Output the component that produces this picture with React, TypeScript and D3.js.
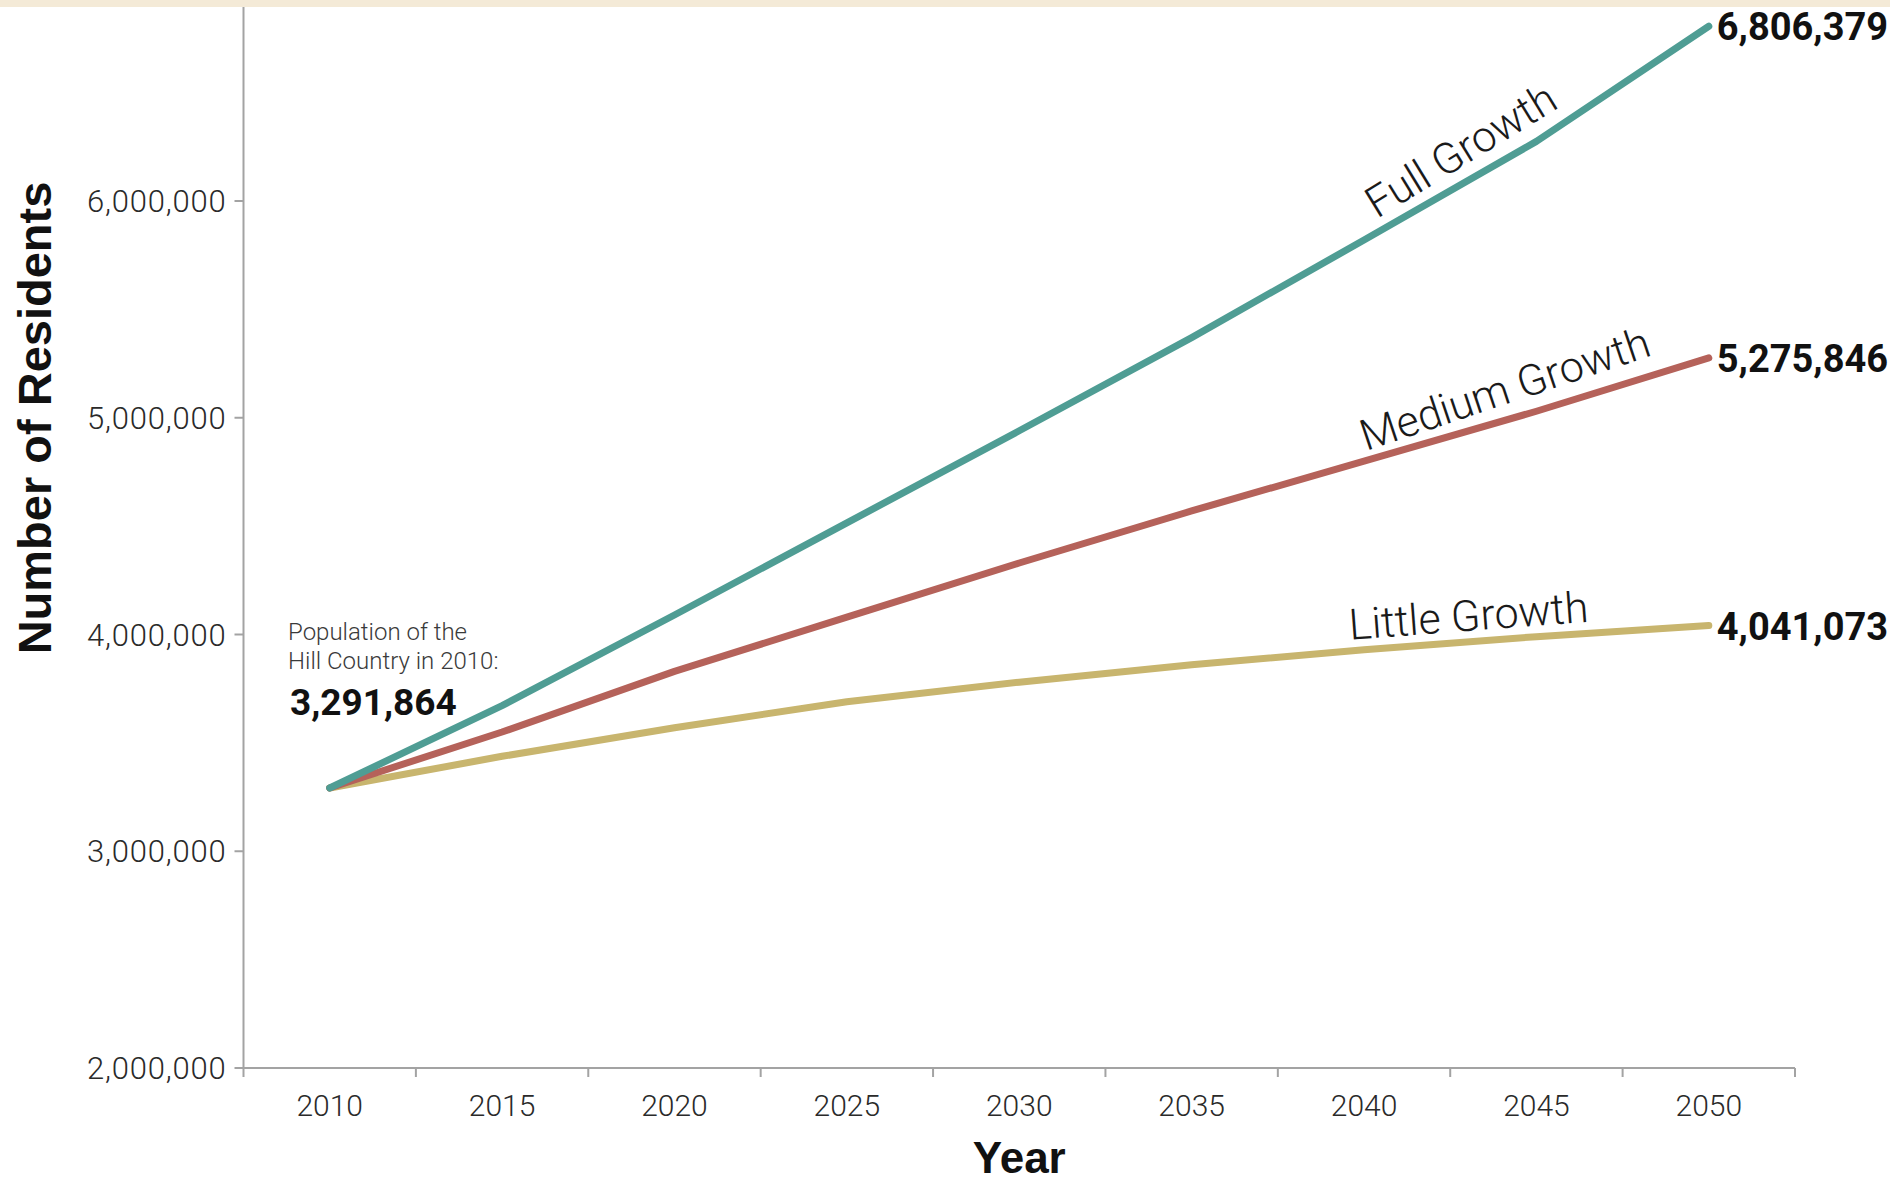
import React, { useEffect } from "react";
import * as d3 from "d3";

const years = ["2010", "2015", "2020", "2025", "2030", "2035", "2040", "2045", "2050"];
const fullGrowth = [3291864, 3672000, 4090000, 4515000, 4940000, 5370000, 5820000, 6275000, 6806379];
const mediumGrowth = [3291864, 3550000, 3830000, 4080000, 4330000, 4570000, 4800000, 5030000, 5275846];
const littleGrowth = [3291864, 3438000, 3570000, 3690000, 3780000, 3860000, 3930000, 3990000, 4041073];
const yTicks = [2000000, 3000000, 4000000, 5000000, 6000000];

const seriesNames = ["Full Growth", "Medium Growth", "Little Growth"];
const seriesColors = ["#4f9d94", "#b5625a", "#c8b56e"];

const W = 1890;
const H = 1185;
const margin = { left: 243.5, right: 95, top: 7, bottom: 117 };

export default function App() {
  useEffect(() => {
    document.body.style.margin = "0";
  }, []);

  const x = d3
    .scaleBand<string>()
    .domain(years)
    .range([margin.left, W - margin.right])
    .paddingInner(0)
    .paddingOuter(0);
  const cx = (yr: string) => (x(yr) as number) + x.bandwidth() / 2;
  const y = d3.scaleLinear().domain([2000000, 6000000]).range([1068, 201]);
  const fmt = d3.format(",");

  const series = [fullGrowth, mediumGrowth, littleGrowth];
  const line = d3
    .line<number>()
    .x((_, i) => cx(years[i]))
    .y((d) => y(d));

  // label placement relative to the 2040 point of each series
  const labelCfg = [
    { dx: 13, dy: -21, angle: -31.5 },
    { dx: 2, dy: -10, angle: -18.5 },
    { dx: -14, dy: -10, angle: -4.3 },
  ];

  const y0 = y.range()[0];
  const edges = [...years.map((yr) => x(yr) as number), W - margin.right];
  const light = "Roboto";

  return (
    <svg width={W} height={H} style={{ display: "block", background: "#ffffff" }}>
      {/* y axis */}
      <line x1={margin.left} x2={margin.left} y1={0} y2={y0} stroke="#a3a3a3" strokeWidth={2} />
      {yTicks.map((t) => (
        <g key={t}>
          <line x1={margin.left - 9} x2={margin.left} y1={y(t)} y2={y(t)} stroke="#a3a3a3" strokeWidth={2} />
          <text
            x={margin.left - 17}
            y={y(t)}
            dy="0.36em"
            textAnchor="end"
            fontFamily={light}
            fontWeight={300}
            fontSize={31}
            letterSpacing={0.8}
            fill="#2a2a2a"
          >
            {fmt(t)}
          </text>
        </g>
      ))}
      {/* x axis */}
      <line x1={margin.left} x2={W - margin.right} y1={y0} y2={y0} stroke="#a3a3a3" strokeWidth={2} />
      {edges.map((e, i) => (
        <line key={i} x1={e} x2={e} y1={y0} y2={y0 + 9} stroke="#a3a3a3" strokeWidth={2} />
      ))}
      {years.map((yr) => (
        <text
          key={yr}
          x={cx(yr)}
          y={1116}
          textAnchor="middle"
          fontFamily={light}
          fontWeight={300}
          fontSize={30}
          fill="#2a2a2a"
        >
          {yr}
        </text>
      ))}

      {/* axis titles */}
      <text
        transform={`translate(51, 418) rotate(-90)`}
        textAnchor="middle"
        fontFamily="Liberation Sans"
        fontWeight={700}
        fontSize={47}
        fill="#111"
      >
        Number of Residents
      </text>
      <text
        x={(margin.left + W - margin.right) / 2}
        y={1173}
        textAnchor="middle"
        fontFamily="Liberation Sans"
        fontWeight={700}
        fontSize={44}
        fill="#111"
      >
        Year
      </text>

      {/* lines */}
      {series.slice().reverse().map((s, ri) => {
        const i = series.length - 1 - ri;
        return (
          <path
            key={seriesNames[i]}
            d={line(s) as string}
            fill="none"
            stroke={seriesColors[i]}
            strokeWidth={7}
            strokeLinecap="round"
            strokeLinejoin="round"
          />
        );
      })}

      {/* series labels */}
      {series.map((s, i) => {
        const px = cx(years[6]) + labelCfg[i].dx;
        const py = y(s[6]) + labelCfg[i].dy;
        return (
          <text
            key={seriesNames[i]}
            transform={`translate(${px}, ${py}) rotate(${labelCfg[i].angle})`}
            fontFamily={light}
            fontWeight={300}
            fontSize={43}
            fill="#1a1a1a"
          >
            {seriesNames[i]}
          </text>
        );
      })}

      {/* end labels */}
      {series.map((s, i) => (
        <text
          key={"end" + i}
          x={cx(years[years.length - 1]) + 8}
          y={y(s[s.length - 1])}
          dy="0.37em"
          fontFamily="Roboto"
          fontWeight={700}
          fontSize={38}
          fill="#111"
        >
          {fmt(s[s.length - 1])}
        </text>
      ))}

      {/* 2010 annotation */}
      <text x={288} y={640} fontFamily={light} fontWeight={300} fontSize={24} fill="#3a3a3a">
        Population of the
      </text>
      <text x={288} y={669} fontFamily={light} fontWeight={300} fontSize={24} fill="#3a3a3a">
        Hill Country in 2010:
      </text>
      <text x={290} y={715} fontFamily="Roboto" fontWeight={700} fontSize={37} fill="#111">
        {fmt(fullGrowth[0])}
      </text>

      {/* top paper strip */}
      <rect x={0} y={0} width={W} height={7} fill="#f4ead7" />
    </svg>
  );
}
